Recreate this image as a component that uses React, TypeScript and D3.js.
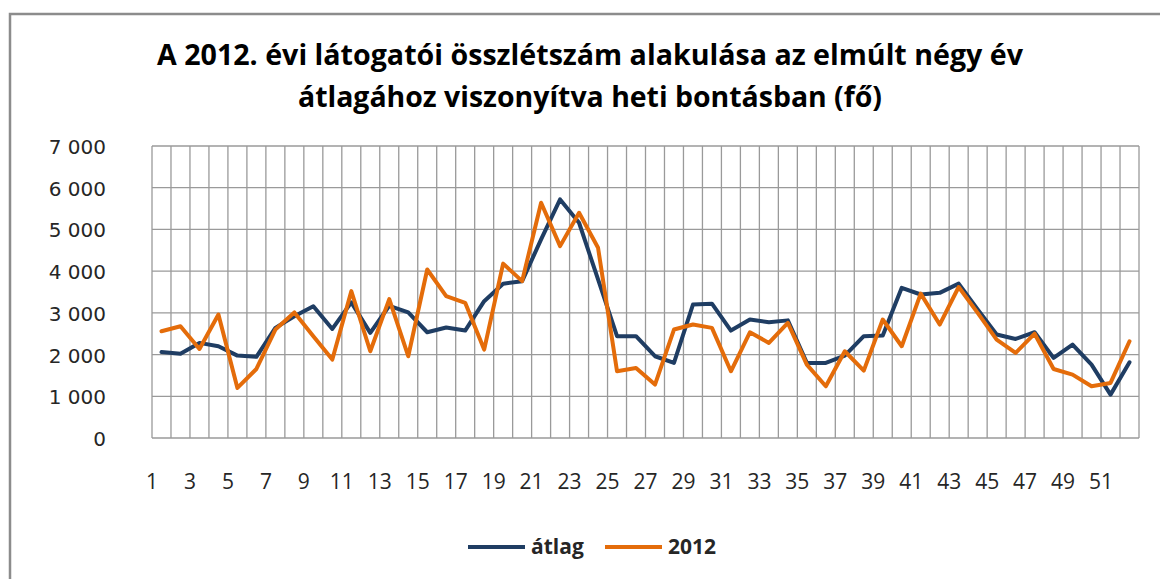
import React from "react";
import * as d3 from "d3";

const weeks: number[] = Array.from({ length: 52 }, (_, i) => i + 1);
const atlag: number[] = [
  2060, 2020, 2280, 2200, 1975, 1945, 2640, 2920, 3160, 2615,
  3250, 2520, 3170, 3010, 2535, 2650, 2575, 3280, 3700, 3760,
  4760, 5720, 5160, 3800, 2440, 2440, 1960, 1800, 3200, 3220,
  2575, 2840, 2775, 2820, 1800, 1800, 1975, 2440, 2455, 3600,
  3440, 3480, 3700, 3080, 2480, 2375, 2535, 1920, 2240, 1760,
  1040, 1815,
];
const y2012: number[] = [
  2560, 2680, 2135, 2960, 1200, 1655, 2600, 3010, 2440, 1880,
  3520, 2080, 3330, 1960, 4040, 3400, 3240, 2120, 4180, 3760,
  5640, 4600, 5400, 4560, 1600, 1680, 1280, 2600, 2720, 2640,
  1600, 2535, 2280, 2760, 1760, 1240, 2080, 1615, 2840, 2200,
  3460, 2720, 3620, 3000, 2360, 2040, 2500, 1655, 1520, 1240,
  1320, 2320,
];
const yTicks: number[] = [0, 1000, 2000, 3000, 4000, 5000, 6000, 7000];
const xTickWeeks: number[] = weeks.filter((w) => w % 2 === 1);
const seriesNames: string[] = ["átlag", "2012"];
const seriesColors: string[] = ["#1F3D63", "#E46C0A"];
const titleLines: string[] = [
  "A 2012. évi látogatói összlétszám alakulása  az elmúlt négy év",
  "átlagához viszonyítva heti bontásban  (fő)",
];

const W = 1160;
const H = 579;
const plot = { left: 152, right: 1139, top: 146, bottom: 438 };
const font = "'Open Sans', 'DejaVu Sans', sans-serif";
const yFont = "'DejaVu Sans', 'Open Sans', sans-serif";

const fmt = (v: number) => {
  if (v === 0) return "0";
  const s = String(v);
  return s.slice(0, s.length - 3) + " " + s.slice(-3);
};

export default function App() {
  const x = d3
    .scaleBand<number>()
    .domain(weeks)
    .range([plot.left, plot.right])
    .padding(0);
  const y = d3.scaleLinear().domain([0, 7000]).range([plot.bottom, plot.top]);
  const bw = x.bandwidth();
  const line = d3
    .line<number>()
    .x((_, i) => (x(weeks[i]) as number) + bw / 2)
    .y((d) => y(d));

  const series = [atlag, y2012];

  return (
    <svg
      width={W}
      height={H}
      style={{ position: "absolute", left: 0, top: 0, background: "#fff" }}
    >
      <rect x={0} y={0} width={W} height={H} fill="#fff" />
      <rect
        x={10}
        y={14}
        width={W + 20}
        height={H + 20}
        fill="none"
        stroke="#8c8c8c"
        strokeWidth={2.5}
      />
      {titleLines.map((t, i) => (
        <text
          key={i}
          x={590}
          y={65 + i * 42}
          textAnchor="middle"
          fontFamily={font}
          fontWeight="bold"
          fontSize={28}
          fill="#000"
          textLength={i === 0 ? 866 : 584}
          lengthAdjust="spacingAndGlyphs"
        >
          {t}
        </text>
      ))}
      {yTicks.map((t) => (
        <line
          key={"h" + t}
          x1={plot.left}
          x2={plot.right}
          y1={y(t)}
          y2={y(t)}
          stroke="#9a9a9a"
          strokeWidth={1.3}
        />
      ))}
      {weeks.concat([53]).map((w) => {
        const xx = w === 53 ? plot.right : (x(w) as number);
        return (
          <line
            key={"v" + w}
            x1={xx}
            x2={xx}
            y1={plot.top}
            y2={plot.bottom}
            stroke="#9a9a9a"
            strokeWidth={1.3}
          />
        );
      })}
      {yTicks.map((t) => (
        <text
          key={"yl" + t}
          x={106}
          y={y(t) + 8}
          textAnchor="end"
          fontFamily={yFont}
          fontSize={20}
          fill="#262626"
        >
          {fmt(t)}
        </text>
      ))}
      {xTickWeeks.map((w) => (
        <text
          key={"xl" + w}
          x={x(w) as number}
          y={489}
          textAnchor="middle"
          fontFamily={font}
          fontSize={21}
          fill="#262626"
        >
          {w}
        </text>
      ))}
      {series.map((s, i) => (
        <path
          key={"s" + i}
          d={line(s) || ""}
          fill="none"
          stroke={seriesColors[i]}
          strokeWidth={4}
          strokeLinejoin="round"
          strokeLinecap="round"
        />
      ))}
      {seriesNames.map((n, i) => {
        const lx = i === 0 ? 468 : 605;
        return (
          <g key={"lg" + i}>
            <line
              x1={lx}
              x2={lx + 57}
              y1={547}
              y2={547}
              stroke={seriesColors[i]}
              strokeWidth={4}
            />
            <text
              x={lx + 63}
              y={554}
              fontFamily={font}
              fontWeight="bold"
              fontSize={21}
              fill="#262626"
            >
              {n}
            </text>
          </g>
        );
      })}
    </svg>
  );
}
